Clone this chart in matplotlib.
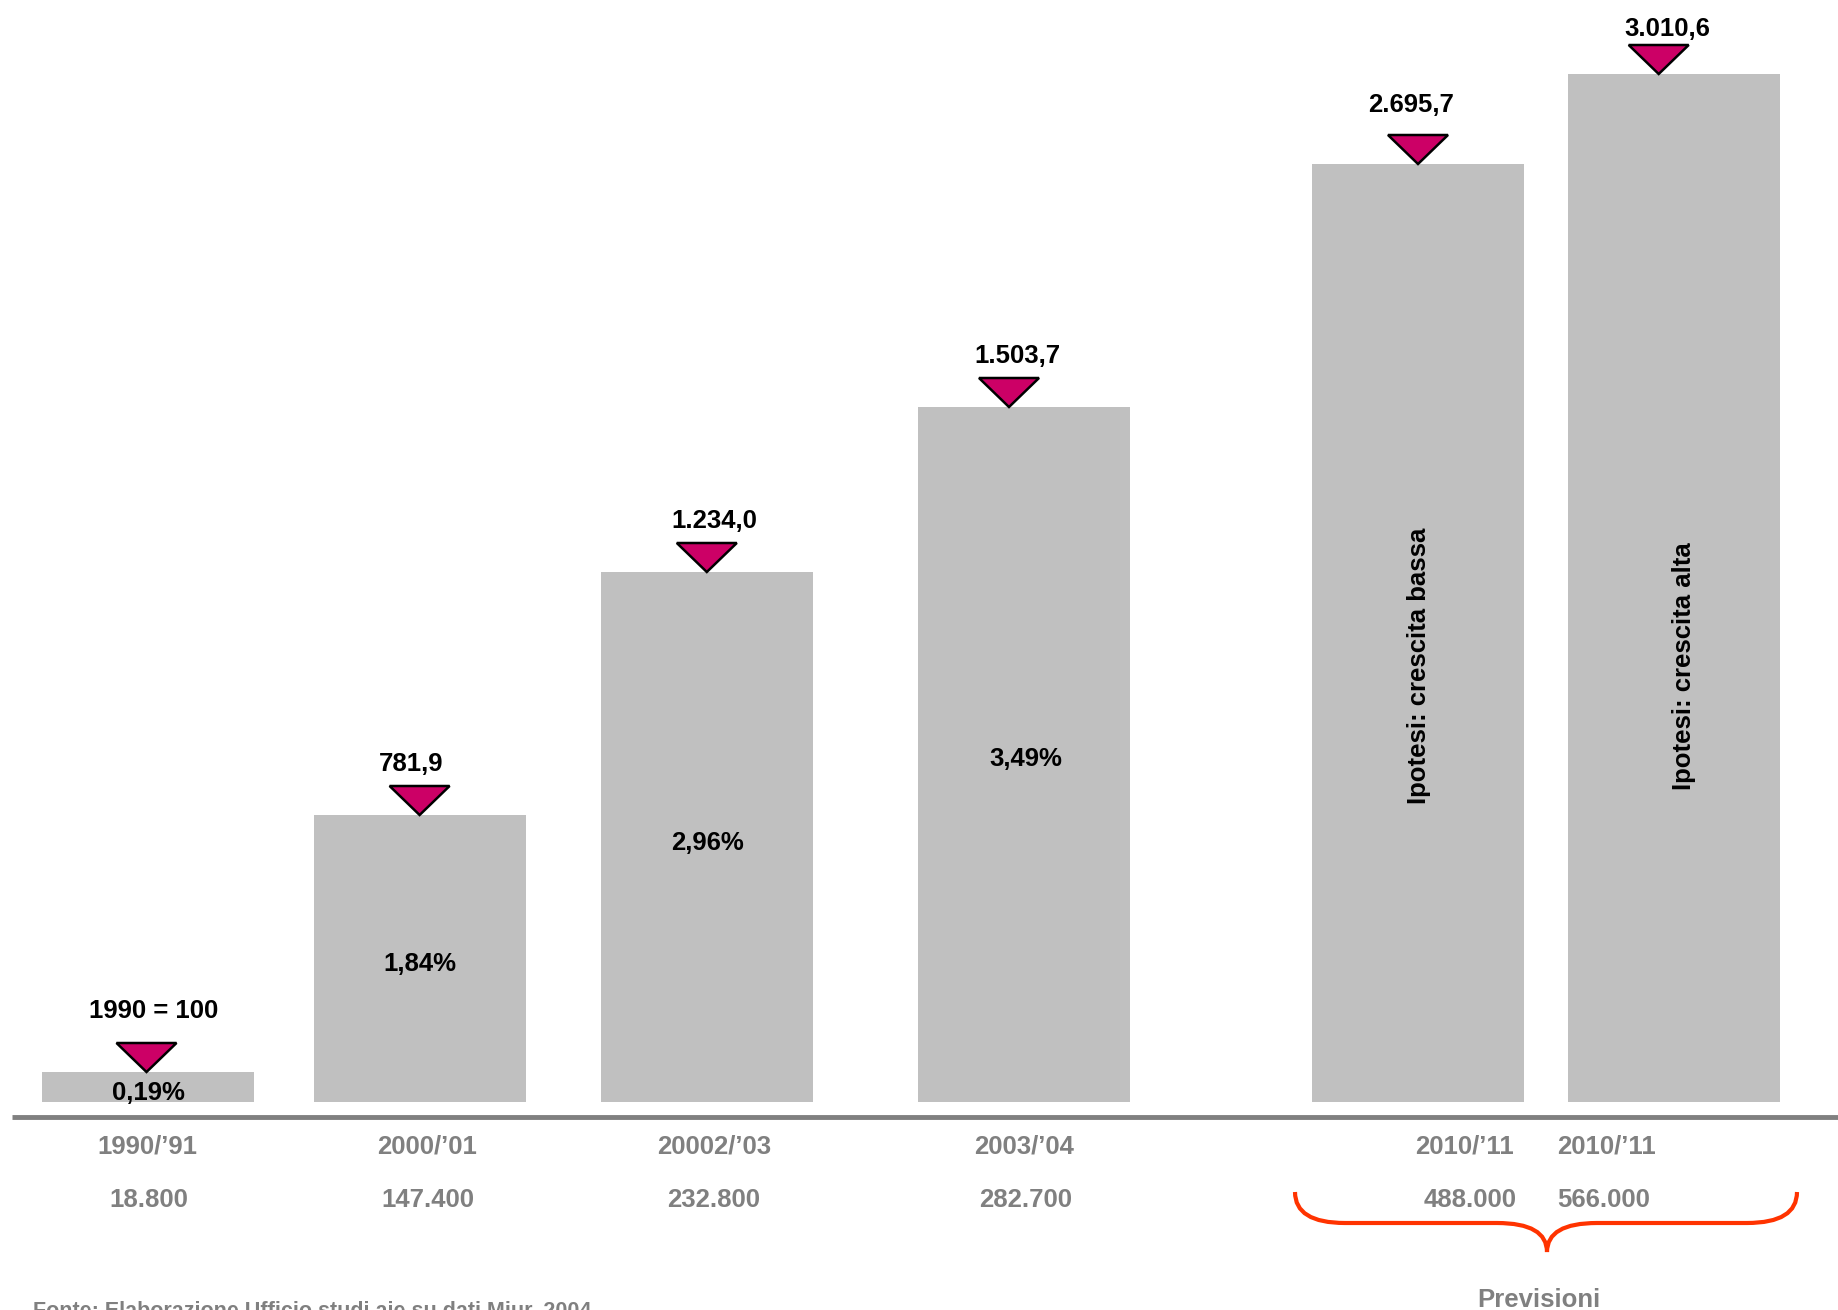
import matplotlib
matplotlib.use("Agg")
import matplotlib.pyplot as plt
from matplotlib.patches import Polygon, PathPatch
from matplotlib.path import Path

plt.rcParams['font.family'] = ['Liberation Sans', 'DejaVu Sans']

# ---- data ----
years = ["1990/\u201991", "2000/\u201901", "20002/\u201903", "2003/\u201904", "2010/\u201911", "2010/\u201911"]
students = ["18.800", "147.400", "232.800", "282.700", "488.000", "566.000"]
index_labels = ["1990 = 100", "781,9", "1.234,0", "1.503,7", "2.695,7", "3.010,6"]
share_labels = ["0,19%", "1,84%", "2,96%", "3,49%", "Ipotesi: crescita bassa", "Ipotesi: crescita alta"]
bar_heights = [30, 287, 530, 695, 938, 1028]   # visual bar heights (chart units)

# ---- layout ----
W, H = 1838, 1310
BASE = 1102  # pixel row of bar bottoms
fig = plt.figure(figsize=(W / 100, H / 100), dpi=100)
ax = fig.add_axes([0, 0, 1, 1])
ax.set_xlim(0, W)
ax.set_ylim(BASE - H, BASE)
ax.axis('off')

def py(p):  # pixel row -> data y
    return BASE - p

centers = [148, 420, 707, 1024, 1418, 1674]
tri_x = [146.5, 419.6, 706.8, 1009, 1418, 1658.7]
label_x = [153.6, 411.4, 713.9, 1017.5, 1411.3, 1666.9]
label_off = [61, 51, 51, 51, 59, 45]
bar_w = 212
bar_color = "#C0C0C0"
tri_color = "#CC0066"
grey = "#808080"
fs = 18.5

ax.bar(centers, bar_heights, width=bar_w, color=bar_color, bottom=0, zorder=1)

# triangles + index labels
tw, th = 60, 29
for tx, lx, h, lab, off in zip(tri_x, label_x, bar_heights, index_labels, label_off):
    tri = Polygon([[tx - tw / 2, h + th], [tx + tw / 2, h + th], [tx, h]],
                  closed=True, facecolor=tri_color, edgecolor='black', lw=1.8, zorder=3)
    ax.add_patch(tri)
    ax.text(lx, h + off, lab, ha='center', va='center', fontsize=fs,
            fontweight='bold', color='black', zorder=4)

# inside labels
inside_y = [1093, 964, 843, 759]
inside_x = [148, 420, 707, 1026]
for x, y, lab in zip(inside_x, inside_y, share_labels[:4]):
    ax.text(x, py(y), lab, ha='center', va='center', fontsize=fs,
            fontweight='bold', color='black', zorder=4)
for x, lab in zip([1419, 1684], share_labels[4:]):
    ax.text(x, py(666), lab, ha='center', va='center', fontsize=fs,
            fontweight='bold', color='black', rotation=90, zorder=4)

# baseline
ax.plot([12, W], [py(1117), py(1117)], color=grey, lw=3.5, solid_capstyle='butt', zorder=2)

# category labels and student counts
year_x = [147.7, 426.7, 713.9, 1024.5, 1465, 1606]
count_x = [149, 428, 714, 1025.7, 1470, 1603.6]
for x, lab in zip(year_x, years):
    ax.text(x, py(1147), lab, ha='center', va='center', fontsize=fs,
            fontweight='bold', color=grey)
for x, lab in zip(count_x, students):
    ax.text(x, py(1200), lab, ha='center', va='center', fontsize=fs,
            fontweight='bold', color=grey)

# brace
L, R, T, M, TIPX, TIPY = 1295, 1797, 1192, 1223, 1547, 1252
verts = [(L, py(T)), (L, py(M)), (L + 50, py(M)),
         (TIPX - 50, py(M)),
         (TIPX, py(M)), (TIPX, py(TIPY)),
         (TIPX, py(M)), (TIPX + 50, py(M)),
         (R - 50, py(M)),
         (R, py(M)), (R, py(T))]
codes = [Path.MOVETO, Path.CURVE3, Path.CURVE3,
         Path.LINETO,
         Path.CURVE3, Path.CURVE3,
         Path.CURVE3, Path.CURVE3,
         Path.LINETO,
         Path.CURVE3, Path.CURVE3]
ax.add_patch(PathPatch(Path(verts, codes), facecolor='none', edgecolor='#FF3300',
                       lw=3, capstyle='butt'))

ax.text(1539, py(1300), "Previsioni", ha='center', va='center', fontsize=fs,
        fontweight='bold', color=grey)
ax.text(33, py(1311), "Fonte: Elaborazione Ufficio studi aie su dati Miur, 2004",
        ha='left', va='center', fontsize=15.5, fontweight='bold', color=grey)

fig.savefig("out.png", dpi=100)
